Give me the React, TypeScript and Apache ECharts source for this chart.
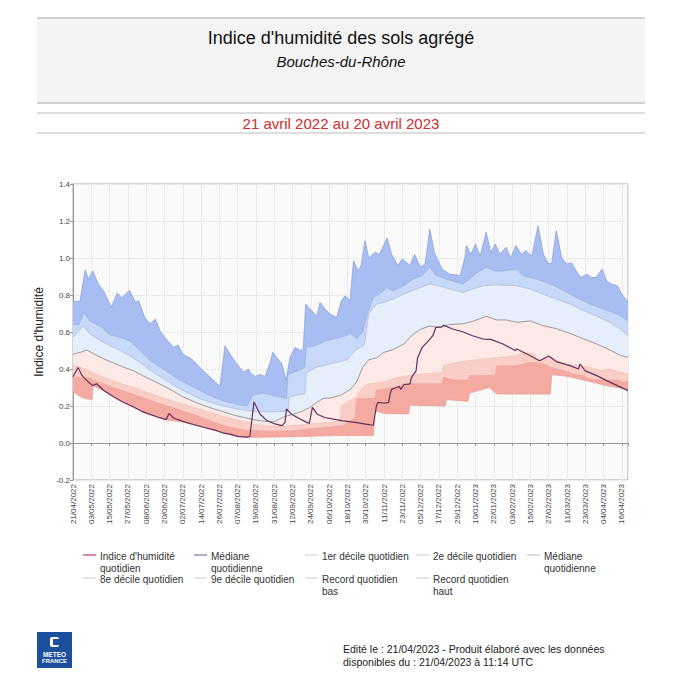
import React, { useEffect, useRef } from "react";
import * as echarts from "echarts";

const dateLabels = [
  "21/04/2022", "03/05/2022", "15/05/2022", "27/05/2022", "08/06/2022", "20/06/2022",
  "02/07/2022", "14/07/2022", "26/07/2022", "07/08/2022", "19/08/2022", "31/08/2022",
  "12/09/2022", "24/09/2022", "06/10/2022", "18/10/2022", "30/10/2022", "11/11/2022",
  "23/11/2022", "05/12/2022", "17/12/2022", "29/12/2022", "10/01/2023", "22/01/2023",
  "03/02/2023", "15/02/2023", "27/02/2023", "11/03/2023", "23/03/2023", "04/04/2023",
  "16/04/2023",
];

// [day index since 21/04/2022, value]
const recordHigh: [number, number][] = [
  [0, 0.766], [4.6, 0.766], [8, 0.935], [10, 0.886], [13, 0.93], [16.6, 0.86], [20, 0.823],
  [23, 0.77], [25, 0.733], [29, 0.81], [32, 0.787], [34, 0.8], [37, 0.825], [41, 0.76],
  [43, 0.77], [47, 0.68], [50.5, 0.643], [54, 0.67], [57, 0.607], [61, 0.562], [66, 0.517],
  [69, 0.53], [72, 0.48], [76, 0.463], [79, 0.445], [81, 0.427], [85.5, 0.39], [90, 0.355],
  [96.5, 0.305], [99.7, 0.526], [103, 0.48], [107.4, 0.427], [112, 0.382], [115, 0.4],
  [117, 0.373], [119.4, 0.36], [122.7, 0.37], [126, 0.36], [129, 0.427], [131, 0.49],
  [133.6, 0.463], [137, 0.427], [139.7, 0.34], [142.4, 0.463], [145.6, 0.517], [149, 0.5],
  [151, 0.508], [152.6, 0.751], [155.5, 0.724], [160, 0.688], [162, 0.76], [165.3, 0.724],
  [168.6, 0.697], [173, 0.68], [176, 0.77], [178.5, 0.796], [181.7, 0.77], [184, 0.985],
  [187, 0.93], [189, 0.96], [191.5, 1.094], [194, 1.0], [198, 1.03], [201, 1.02], [206, 1.108],
  [209, 1.02], [213, 0.96], [216, 0.995], [221, 0.96], [224, 1.02], [228, 0.95], [231, 0.97],
  [234, 1.155], [237, 1.03], [242, 0.94], [247, 0.913], [254, 0.905], [257, 1.0], [258, 1.067],
  [261, 1.02], [264, 1.076], [267, 1.01], [271, 1.14], [274, 1.03], [277, 1.076], [280, 1.02],
  [284, 1.058], [287, 1.0], [290.5, 1.067], [294, 1.02], [297, 1.04], [301, 1.01], [305, 1.175],
  [308.5, 1.02], [312, 0.967], [314, 0.975], [317, 1.148], [320.5, 1.0], [324, 0.967],
  [327, 0.975], [330, 0.93], [333, 0.895], [337, 0.913], [340, 0.895], [343, 0.895],
  [347, 0.94], [350, 0.877], [353, 0.86], [357, 0.85], [360, 0.805], [364, 0.76],
];

const decile9: [number, number][] = [
  [0, 0.64], [4, 0.64], [7, 0.706], [11, 0.66], [18, 0.63], [24, 0.585], [31, 0.571],
  [37, 0.553], [44, 0.5], [50, 0.45], [57, 0.41], [64, 0.373], [70, 0.34], [77, 0.31],
  [83, 0.285], [90, 0.256], [98, 0.229], [107, 0.21], [114, 0.2], [118, 0.26], [125, 0.27],
  [135, 0.25], [140, 0.24], [141, 0.37], [150, 0.4], [152, 0.41], [153, 0.517], [160, 0.53],
  [165, 0.55], [175, 0.57], [182, 0.59], [186, 0.565], [190, 0.6], [193, 0.7], [197, 0.787],
  [201, 0.805], [206, 0.84], [210, 0.823], [217, 0.85], [223, 0.886], [229, 0.905], [234, 0.95],
  [238, 0.905], [245, 0.886], [252, 0.868], [256, 0.86], [260, 0.886], [265, 0.92], [271, 0.95],
  [277, 0.93], [282, 0.93], [291, 0.94], [295, 0.905], [304, 0.886], [313, 0.86], [322, 0.823],
  [330, 0.787], [339, 0.751], [348, 0.724], [357, 0.697], [364, 0.66],
];

const decile8: [number, number][] = [
  [0, 0.571], [7, 0.634], [11, 0.59], [18, 0.553], [24, 0.526], [31, 0.5], [37, 0.472],
  [44, 0.436], [50, 0.395], [57, 0.36], [64, 0.322], [70, 0.292], [77, 0.265], [83, 0.24],
  [90, 0.22], [100, 0.197], [110, 0.18], [118, 0.172], [130, 0.168], [141, 0.172], [142, 0.25],
  [150, 0.265], [152, 0.265], [153, 0.38], [160, 0.41], [170, 0.43], [180, 0.45], [185, 0.5],
  [191, 0.53], [194, 0.7], [199, 0.75], [204, 0.76], [210, 0.778], [217, 0.805], [225, 0.832],
  [234, 0.86], [240, 0.85], [247, 0.832], [256, 0.814], [262, 0.832], [269, 0.85], [277, 0.855],
  [291, 0.85], [300, 0.832], [308, 0.805], [317, 0.778], [326, 0.751], [335, 0.715],
  [343, 0.688], [352, 0.652], [359, 0.616], [364, 0.58],
];

const medianQ: [number, number][] = [
  [0, 0.48], [5, 0.49], [9, 0.503], [14, 0.48], [20, 0.455], [26, 0.435], [33, 0.41],
  [40, 0.39], [46, 0.362], [53, 0.335], [59, 0.31], [66, 0.28], [72, 0.25], [79, 0.225],
  [85, 0.205], [92, 0.185], [99, 0.168], [105, 0.152], [112, 0.138], [118, 0.127], [125, 0.118],
  [132, 0.115], [138, 0.14], [144, 0.155], [150, 0.17], [155, 0.19], [160, 0.22], [164, 0.24],
  [170, 0.245], [176, 0.26], [182, 0.29], [186, 0.33], [190, 0.41], [194, 0.45], [199, 0.46],
  [204, 0.49], [210, 0.505], [217, 0.535], [222, 0.58], [228, 0.615], [234, 0.632], [240, 0.625],
  [247, 0.64], [256, 0.645], [262, 0.657], [271, 0.685], [278, 0.665], [284, 0.665],
  [291, 0.652], [300, 0.66], [308, 0.635], [317, 0.618], [326, 0.592], [335, 0.562],
  [343, 0.537], [352, 0.503], [359, 0.474], [364, 0.463],
];

const decile2: [number, number][] = [
  [0, 0.42], [8, 0.4], [13, 0.38], [20, 0.355], [30, 0.325], [40, 0.3], [50, 0.27], [60, 0.24],
  [70, 0.215], [80, 0.19], [90, 0.165], [100, 0.14], [112, 0.115], [123, 0.095], [134, 0.09],
  [145, 0.094], [155, 0.103], [169, 0.112], [175, 0.115], [176, 0.2], [186, 0.25], [190, 0.3],
  [194, 0.32], [204, 0.33], [213, 0.355], [228, 0.373], [242, 0.38], [243, 0.418], [252, 0.436],
  [269, 0.455], [282, 0.463], [291, 0.472], [295, 0.49], [303, 0.48], [304, 0.445], [313, 0.463],
  [322, 0.427], [330, 0.418], [339, 0.41], [346, 0.39], [352, 0.4], [359, 0.382], [364, 0.373],
];

const decile1: [number, number][] = [
  [0, 0.355], [12, 0.35], [13, 0.34], [20, 0.32], [30, 0.29], [40, 0.262], [50, 0.232],
  [60, 0.205], [70, 0.178], [80, 0.152], [90, 0.12], [101, 0.09], [112, 0.07], [123, 0.066],
  [134, 0.063], [145, 0.066], [155, 0.076], [166, 0.085], [177, 0.094], [182, 0.12], [185, 0.14],
  [186, 0.24], [198, 0.24], [199, 0.285], [210, 0.3], [218, 0.32], [242, 0.32], [243, 0.355],
  [250, 0.34], [259, 0.34], [260, 0.364], [277, 0.365], [278, 0.418], [291, 0.418], [300, 0.436],
  [308, 0.43], [313, 0.41], [322, 0.39], [328, 0.373], [335, 0.364], [339, 0.346], [350, 0.337],
  [357, 0.34], [361, 0.328], [364, 0.335],
];

const recordLow: [number, number][] = [
  [0, 0.28], [4, 0.255], [8, 0.24], [12.5, 0.235], [13, 0.31], [20, 0.283], [27, 0.25],
  [33, 0.22], [40, 0.193], [47, 0.163], [55, 0.14], [61, 0.125], [66, 0.12], [72, 0.113],
  [79, 0.099], [86, 0.084], [93, 0.069], [99, 0.052], [108, 0.035], [114, 0.031], [130, 0.032],
  [150, 0.035], [170, 0.04], [197, 0.04], [198, 0.175], [204, 0.16], [220, 0.157], [221, 0.205],
  [244, 0.2], [245, 0.235], [259, 0.225], [260, 0.27], [273, 0.3], [278, 0.265], [313, 0.265],
  [314, 0.37], [325, 0.36], [340, 0.33], [350, 0.31], [364, 0.29],
];

const humidityIndex: [number, number][] = [
  [0, 0.358], [3.3, 0.408], [6, 0.364], [10, 0.33], [13, 0.31], [15.5, 0.32], [20, 0.285],
  [26.5, 0.25], [33, 0.22], [40, 0.193], [46, 0.168], [55, 0.142], [61, 0.126], [63, 0.16],
  [66, 0.135], [72, 0.117], [79, 0.1], [85.5, 0.085], [93, 0.07], [99, 0.053], [103, 0.048],
  [108, 0.036], [114, 0.032], [116, 0.035], [118.7, 0.222], [122.6, 0.157], [127, 0.122],
  [132.5, 0.103], [137, 0.094], [139, 0.11], [140, 0.184], [143, 0.157], [149, 0.13],
  [153, 0.113], [155, 0.106], [157, 0.193], [160, 0.157], [165, 0.138], [170, 0.13],
  [177, 0.12], [185, 0.111], [190, 0.105], [195, 0.098], [197, 0.096], [199, 0.2], [200, 0.22],
  [204, 0.215], [207, 0.22], [208, 0.265], [209, 0.29], [212, 0.3], [214, 0.305], [215, 0.29],
  [217, 0.315], [221, 0.32], [222, 0.355], [225, 0.39], [226, 0.46], [229, 0.517], [234, 0.56],
  [236, 0.58], [238, 0.625], [242, 0.628], [243, 0.637], [245, 0.63], [249, 0.616], [256, 0.6],
  [262, 0.58], [269, 0.562], [274, 0.56], [282, 0.535], [290, 0.5], [291, 0.508], [300, 0.472],
  [306, 0.445], [312, 0.47], [317, 0.44], [326, 0.418], [331.5, 0.4], [332.5, 0.427],
  [336, 0.39], [343.5, 0.364], [350, 0.337], [357, 0.31], [364, 0.283],
];

const yTicks = { min: -0.2, max: 1.4, step: 0.2 };

const FONT = "'Liberation Sans', Arial, sans-serif";

export default function App() {
  const ref = useRef<HTMLDivElement>(null);

  useEffect(() => {
    if (!ref.current) return;
    const chart = echarts.init(ref.current, null, { renderer: "svg" });

    const band = (name: string, upper: [number, number][], lower: [number, number][], fill: string) => ({
      type: "custom",
      name,
      silent: true,
      z: 1,
      clip: true,
      data: [[0, 0]],
      renderItem: (_params: any, api: any) => {
        const pts = upper
          .map((p) => api.coord(p))
          .concat(lower.slice().reverse().map((p) => api.coord(p)));
        return { type: "polygon", shape: { points: pts }, style: { fill } };
      },
    });

    const edge = (name: string, data: [number, number][], color: string, width = 0.8, z = 3) => ({
      type: "line",
      name,
      data,
      showSymbol: false,
      symbol: "none",
      silent: true,
      z,
      lineStyle: { color, width },
    });

    const legendItems = [
      { label: "Indice d'humidité\nquotidien", color: "#c86478", col: 0, row: 0 },
      { label: "Médiane\nquotidienne", color: "#9a8cae", col: 1, row: 0 },
      { label: "1er décile quotidien", color: "#e4dcdc", col: 2, row: 0 },
      { label: "2e décile quotidien", color: "#dcdcdc", col: 3, row: 0 },
      { label: "Médiane\nquotidienne", color: "#d0d0d0", col: 4, row: 0 },
      { label: "8e décile quotidien", color: "#dcdcdc", col: 0, row: 1 },
      { label: "9e décile quotidien", color: "#dcdcdc", col: 1, row: 1 },
      { label: "Record quotidien\nbas", color: "#dcdcdc", col: 2, row: 1 },
      { label: "Record quotidien\nhaut", color: "#dcdcdc", col: 3, row: 1 },
    ];

    const legendGraphics: any[] = [];
    legendItems.forEach((it) => {
      const tx = 100 + it.col * 111;
      const ty = 550 + it.row * 23;
      legendGraphics.push({
        type: "line",
        shape: { x1: tx - 17, y1: ty + 5, x2: tx - 4, y2: ty + 5 },
        style: { stroke: it.color, lineWidth: 1.5 },
      });
      legendGraphics.push({
        type: "text",
        x: tx,
        y: ty,
        style: {
          text: it.label,
          font: `10px ${FONT}`,
          fill: "#333",
          lineHeight: 12,
          textVerticalAlign: "top",
        },
      });
    });

    const option: any = {
      animation: false,
      backgroundColor: "#ffffff",
      grid: {
        left: 73,
        top: 184,
        right: 55,
        bottom: 203,
        show: true,
        backgroundColor: "#fafafa",
        borderColor: "#a8a8a8",
        borderWidth: 1,
      },
      xAxis: {
        type: "value",
        min: 0,
        max: 364,
        interval: 12,
        axisLine: { show: true, lineStyle: { color: "#999" } },
        axisTick: { show: true, length: 3, lineStyle: { color: "#999" } },
        splitLine: { show: true, lineStyle: { color: "#ebebeb", width: 1 } },
        axisLabel: {
          rotate: 90,
          fontSize: 8,
          color: "#444",
          fontFamily: FONT,
          margin: 4,
          formatter: (v: number) => (v % 12 === 0 && dateLabels[v / 12] ? dateLabels[v / 12] : ""),
        },
      },
      yAxis: {
        type: "value",
        min: yTicks.min,
        max: yTicks.max,
        interval: yTicks.step,
        name: "Indice d'humidité",
        nameLocation: "middle",
        nameGap: 22,
        nameTextStyle: { fontSize: 12, color: "#222", fontFamily: FONT },
        axisLine: { show: true, lineStyle: { color: "#999" } },
        axisTick: { show: true, length: 3, lineStyle: { color: "#999" } },
        splitLine: { show: true, lineStyle: { color: "#ebebeb", width: 1 } },
        axisLabel: {
          fontSize: 8,
          color: "#444",
          fontFamily: FONT,
          margin: 3,
          formatter: (v: number) => v.toFixed(1),
        },
      },
      series: [
        band("Record haut - 9e décile", recordHigh, decile9, "#a8bef2"),
        band("9e - 8e décile", decile9, decile8, "#c8d8f8"),
        band("8e décile - médiane", decile8, medianQ, "#e6eefc"),
        band("Médiane - 2e décile", medianQ, decile2, "#fde9e5"),
        band("2e - 1er décile", decile2, decile1, "#f9cec7"),
        band("1er décile - record bas", decile1, recordLow, "#f4a9a1"),
        edge("Record quotidien haut", recordHigh, "#8ea2d6"),
        edge("9e décile quotidien", decile9, "#97acdc"),
        edge("8e décile quotidien", decile8, "#aebbd6"),
        edge("Médiane quotidienne", medianQ, "#999999", 1),
        edge("2e décile quotidien", decile2, "#efc4bc"),
        edge("1er décile quotidien", decile1, "#eda79f"),
        edge("Record quotidien bas", recordLow, "#ec9c94"),
        edge("Indice d'humidité quotidien", humidityIndex, "#62305e", 1.2, 5),
      ],
      graphic: [
        // header box
        { type: "rect", shape: { x: 37, y: 18, width: 608, height: 85 }, style: { fill: "#f4f4f4" } },
        { type: "line", shape: { x1: 37, y1: 18, x2: 645, y2: 18 }, style: { stroke: "#d2d2d2", lineWidth: 2 } },
        { type: "line", shape: { x1: 37, y1: 103, x2: 645, y2: 103 }, style: { stroke: "#d2d2d2", lineWidth: 2 } },
        { type: "line", shape: { x1: 37, y1: 113, x2: 645, y2: 113 }, style: { stroke: "#d2d2d2", lineWidth: 1.5 } },
        { type: "line", shape: { x1: 37, y1: 133, x2: 645, y2: 133 }, style: { stroke: "#d2d2d2", lineWidth: 1.5 } },
        {
          type: "text",
          x: 341,
          y: 38,
          style: {
            text: "Indice d'humidité des sols agrégé",
            font: `18px ${FONT}`,
            fill: "#111",
            textAlign: "center",
            textVerticalAlign: "middle",
          },
        },
        {
          type: "text",
          x: 341,
          y: 61,
          style: {
            text: "Bouches-du-Rhône",
            font: `italic 15px ${FONT}`,
            fill: "#111",
            textAlign: "center",
            textVerticalAlign: "middle",
          },
        },
        {
          type: "text",
          x: 341,
          y: 123,
          style: {
            text: "21 avril 2022 au 20 avril 2023",
            font: `15px ${FONT}`,
            fill: "#d42b2b",
            textAlign: "center",
            textVerticalAlign: "middle",
          },
        },
        ...legendGraphics,
        // logo
        { type: "rect", shape: { x: 37, y: 632, width: 35, height: 36 }, style: { fill: "#1c4f9c" } },
        { type: "rect", shape: { x: 50, y: 637, width: 9, height: 10, r: 2 }, style: { fill: "#ffffff" } },
        { type: "rect", shape: { x: 53, y: 639, width: 6, height: 6 }, style: { fill: "#1c4f9c" } },
        {
          type: "text",
          x: 54.5,
          y: 654,
          style: { text: "METEO", font: `bold 6.5px ${FONT}`, fill: "#fff", textAlign: "center", textVerticalAlign: "middle" },
        },
        {
          type: "text",
          x: 54.5,
          y: 661,
          style: { text: "FRANCE", font: `bold 6px ${FONT}`, fill: "#fff", textAlign: "center", textVerticalAlign: "middle" },
        },
        {
          type: "text",
          x: 343,
          y: 642,
          style: {
            text: "Edité le : 21/04/2023 - Produit élaboré avec les données\ndisponibles du : 21/04/2023 à 11:14 UTC",
            font: `10.5px ${FONT}`,
            fill: "#222",
            lineHeight: 13,
            textVerticalAlign: "top",
          },
        },
      ],
    };

    chart.setOption(option);
    return () => chart.dispose();
  }, []);

  return (
    <div
      ref={ref}
      style={{ position: "fixed", left: 0, top: 0, width: 683, height: 683, background: "#fff" }}
    />
  );
}
